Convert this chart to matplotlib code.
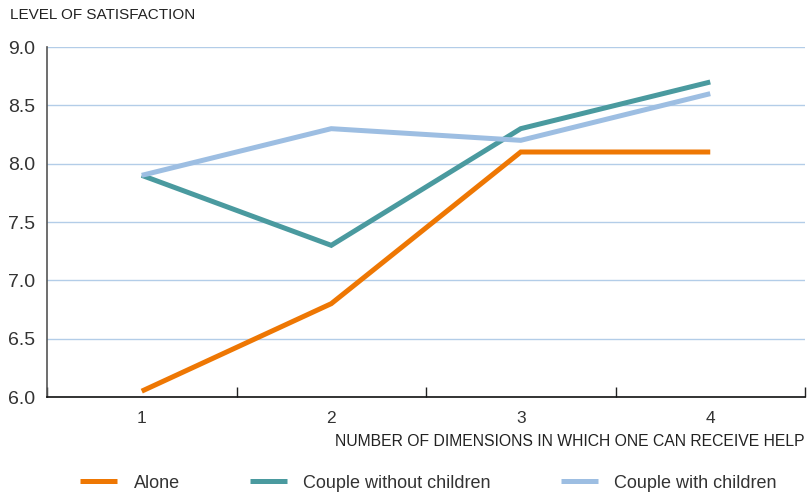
import matplotlib
matplotlib.use("Agg")
import matplotlib.pyplot as plt
from matplotlib.ticker import FixedLocator

plt.rcParams['font.family'] = ['Liberation Sans', 'DejaVu Sans']

dimensions = [1, 2, 3, 4]
alone = [6.05, 6.8, 8.1, 8.1]
couple_without_children = [7.9, 7.3, 8.3, 8.7]
couple_with_children = [7.9, 8.3, 8.2, 8.6]
y_ticks = [6.0, 6.5, 7.0, 7.5, 8.0, 8.5, 9.0]

series = [
    ("Alone", alone, "#ee7703"),
    ("Couple without children", couple_without_children, "#4a9a9f"),
    ("Couple with children", couple_with_children, "#9dbee2"),
]

W, H = 807, 495
fig = plt.figure(figsize=(W / 100, H / 100), dpi=100)
ax = fig.add_axes([47 / W, 1 - 397 / H, (805 - 47) / W, (397 - 47) / H])

for label, values, color in series:
    ax.plot(dimensions, values, color=color, lw=3.6, label=label,
            solid_capstyle='butt', solid_joinstyle='miter', zorder=3)

ax.set_xlim(0.5, 4.5)
ax.set_ylim(6.0, 9.0)
ax.set_yticks(y_ticks)
ax.set_yticklabels([f"{v:.1f}" for v in y_ticks])
ax.set_xticks(dimensions)
ax.set_xticklabels([str(d) for d in dimensions])
ax.xaxis.set_minor_locator(FixedLocator([0.5, 1.5, 2.5, 3.5, 4.5]))

ax.yaxis.grid(True, color="#b3cde8", lw=1.0, zorder=0)
ax.set_axisbelow(True)

ax.tick_params(axis='y', length=0, pad=8.5, labelsize=14, labelcolor="#333333")
ax.tick_params(axis='x', which='major', length=0, pad=10, labelsize=12.5, labelcolor="#333333")
ax.tick_params(axis='x', which='minor', direction='in', length=7, width=1.0, color="#222222")

for side in ("top", "right"):
    ax.spines[side].set_visible(False)
ax.spines['left'].set_color("#555555")
ax.spines['left'].set_linewidth(1.2)
ax.spines['bottom'].set_color("#111111")
ax.spines['bottom'].set_linewidth(1.2)

fig.text(10 / W, 1 - 15 / H, "LEVEL OF SATISFACTION", ha='left', va='center',
         fontsize=11, color="#222222")
fig.text(805 / W, 1 - 442 / H, "NUMBER OF DIMENSIONS IN WHICH ONE CAN RECEIVE HELP",
         ha='right', va='center', fontsize=11.3, color="#222222")

fig.legend(loc='center left', bbox_to_anchor=(64 / W, 1 - 483 / H), ncol=3,
           frameon=False, fontsize=13, handlelength=2.05, handletextpad=0.9,
           columnspacing=3.9, labelcolor="#333333")

fig.savefig("out.png", dpi=100)
